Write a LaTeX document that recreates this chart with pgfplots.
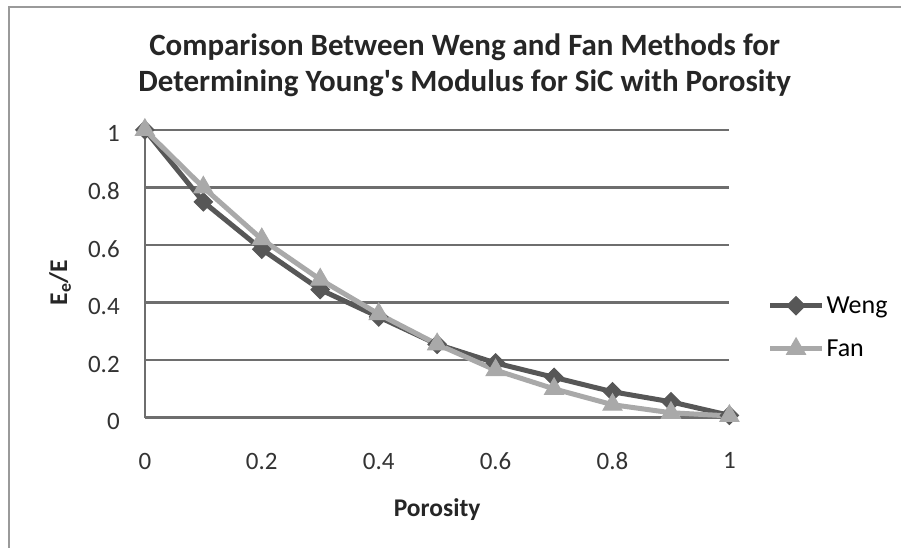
\documentclass[border=0pt]{standalone}
\usepackage{pgfplots}
\pgfplotsset{compat=1.18}
\usepackage{fontspec}
\setmainfont{Carlito}
\definecolor{wengc}{HTML}{575757}
\definecolor{fanc}{HTML}{A9A9A9}
\definecolor{gridc}{HTML}{6E6E6E}
\definecolor{framec}{HTML}{9A9A9A}
\begin{document}
\begin{tikzpicture}[x=1pt,y=1pt]
\path[fill=white] (0,0) rectangle (902,548);
\draw[color=framec, line width=1.5pt] (9,0) -- (9,541) -- (902,541);
\node[font=\bfseries\fontsize{31}{36}\selectfont, anchor=base, text=black!85] at (465,492) {Comparison Between Weng and Fan Methods for};
\node[font=\bfseries\fontsize{31}{36}\selectfont, anchor=base, text=black!85] at (465,456) {Determining Young\textquotesingle s Modulus for SiC with Porosity};
\begin{axis}[
  at={(145pt,130pt)}, anchor=south west,
  scale only axis, width=585pt, height=288pt,
  xmin=0, xmax=1, ymin=0, ymax=1,
  xtick={0,0.2,0.4,0.6,0.8,1},
  ytick={0,0.2,0.4,0.6,0.8,1},
  major tick length=0pt,
  axis x line*=bottom, axis y line*=left,
  axis line style={-, draw=gridc, line width=2.5pt},
  ymajorgrids,
  major grid style={draw=gridc, line width=2.5pt},
  /pgf/number format/assume math mode=true,
  tick label style={font=\fontsize{25}{29}\selectfont, text=black!80, inner sep=0pt},
  xticklabel style={anchor=north, yshift=-35pt},
  yticklabel style={anchor=east, xshift=-25pt, yshift=-4pt},
  xlabel={\textbf{Porosity}},
  ylabel={\textbf{E\textsubscript{e}/E}},
  label style={font=\fontsize{25.5}{29}\selectfont, text=black!85},
  xlabel style={at={(axis description cs:0.5,-0.319)}, anchor=center},
  ylabel style={at={(axis description cs:-0.145,0.469)}, anchor=center},
  clip=false,
  legend cell align=left,
  legend style={draw=none, fill=none, at={(axis description cs:1.065,0.314)}, anchor=west,
    font=\fontsize{26}{30}\selectfont, row sep=21pt, inner sep=0pt},
  legend image code/.code={\draw[mark repeat=2,mark phase=2,#1] plot coordinates {(0pt,0pt) (26pt,0pt) (52pt,0pt)};},
]
\addplot[color=wengc, line width=5pt, mark=square*, mark size=6.5pt, mark options={fill=wengc, draw=wengc, line width=1pt, rotate=45}]
coordinates {(0,1) (0.1,0.75) (0.2,0.585) (0.3,0.445) (0.4,0.35) (0.5,0.255) (0.6,0.19) (0.7,0.14) (0.8,0.09) (0.9,0.055) (1,0.008)};
\addlegendentry{Weng}
\addplot[color=fanc, line width=5pt, mark=triangle*, mark size=11pt, mark options={fill=fanc, draw=fanc, line width=1pt}]
coordinates {(0,1) (0.1,0.80) (0.2,0.62) (0.3,0.48) (0.4,0.36) (0.5,0.255) (0.6,0.165) (0.7,0.10) (0.8,0.045) (0.9,0.017) (1,0.006)};
\addlegendentry{Fan}
\end{axis}
\end{tikzpicture}
\end{document}
